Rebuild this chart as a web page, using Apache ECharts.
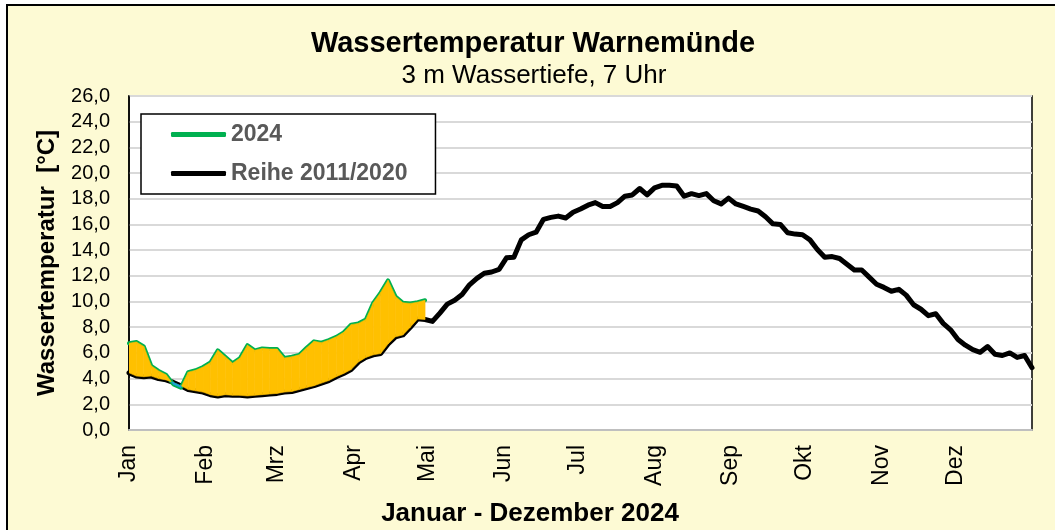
<!DOCTYPE html>
<html lang="de">
<head>
    <meta charset="UTF-8"/>
    <title>Wassertemperatur Warnemünde</title>
    <script src="https://cdn.jsdelivr.net/npm/echarts@6/dist/echarts.min.js"></script>
    <style>
        html, body {
            margin: 0;
            padding: 0;
            background: #fff;
            overflow: hidden;
        }

        #frame {
            position: absolute;
            left: 6px;
            top: 4px;
            width: 1100px;
            height: 600px;
            border: 2px solid #000;
            background: #FDFAD4;
        }

        #chart {
            position: absolute;
            left: 0;
            top: 0;
            width: 1055px;
            height: 530px;
        }
    </style>
</head>
<body>
<div id="frame"></div>
<div id="chart"></div>

<script>
    // Tageswerte im Abstand von 3 Tagen (Tag 0 = 1. Januar)
    const dayStep = 3;

    const monthNames = ["Jan", "Feb", "Mrz", "Apr", "Mai", "Jun", "Jul", "Aug", "Sep", "Okt", "Nov", "Dez"];
    const monthStartDays = [0, 31, 60, 91, 121, 152, 182, 213, 244, 274, 305, 335];

    // Reihe 2011/2020 (Mittelwerte)
    const refTemps = [
        4.45, 4.2, 4.15, 4.2, 4.0, 3.9, 3.7, 3.45, 3.15, 3.05,
        2.95, 2.75, 2.65, 2.75, 2.7, 2.7, 2.65, 2.7, 2.75, 2.8,
        2.85, 2.95, 3.0, 3.15, 3.3, 3.45, 3.65, 3.85, 4.15, 4.4,
        4.7, 5.3, 5.65, 5.85, 5.95, 6.7, 7.25, 7.4, 8.0, 8.65,
        8.6, 8.45, 9.1, 9.8, 10.1, 10.55, 11.3, 11.8, 12.2, 12.3,
        12.5, 13.4, 13.45, 14.8, 15.2, 15.4, 16.4, 16.55, 16.65, 16.5,
        16.95, 17.2, 17.5, 17.7, 17.4, 17.4, 17.7, 18.2, 18.3, 18.8,
        18.3, 18.85, 19.05, 19.05, 19.0, 18.2, 18.4, 18.25, 18.4, 17.85,
        17.6, 18.05, 17.6, 17.4, 17.2, 17.05, 16.6, 16.05, 16.0, 15.35,
        15.25, 15.2, 14.8, 14.05, 13.45, 13.5, 13.35, 12.9, 12.45, 12.45,
        11.9, 11.35, 11.1, 10.8, 10.95, 10.5, 9.75, 9.4, 8.9, 9.05,
        8.3, 7.8, 7.05, 6.6, 6.25, 6.05, 6.5, 5.9, 5.8, 6.0,
        5.65, 5.8, 4.85
    ];

    // 2024 (bis Ende April)
    const temps2024 = [
        6.75, 6.85, 6.5, 5.0, 4.6, 4.3, 3.55, 3.3, 4.5, 4.65,
        4.9, 5.25, 6.2, 5.7, 5.2, 5.6, 6.6, 6.2, 6.35, 6.3,
        6.3, 5.6, 5.7, 5.85, 6.4, 6.9, 6.8, 7.0, 7.25, 7.6,
        8.2, 8.3, 8.6, 9.9, 10.7, 11.65, 10.4, 9.9, 9.85, 9.95,
        10.1
    ];

    const FONT = "'Liberation Sans', Arial, sans-serif";
    const WARM = "#FFC000";
    const COLD = "#1E9FD8";

    const refData = refTemps.map((v, i) => [i * dayStep, v]);
    const data2024 = temps2024.map((v, i) => [i * dayStep, v]);

    // Abschnitte zwischen zwei Tagen: [Tag0, Tag1, 2024_0, 2024_1, Reihe_0, Reihe_1]
    const bandData = [];
    for (let i = 0; i < temps2024.length - 1; i++) {
        bandData.push([i * dayStep, (i + 1) * dayStep, temps2024[i], temps2024[i + 1], refTemps[i], refTemps[i + 1]]);
    }

    function poly(api, pts, color) {
        return {
            type: "polygon",
            shape: {points: pts.map(p => api.coord(p))},
            style: {fill: color, stroke: color, lineWidth: 0.6}
        };
    }

    function renderBand(params, api) {
        const d0 = api.value(0), d1 = api.value(1);
        const g0 = api.value(2), g1 = api.value(3);
        const r0 = api.value(4), r1 = api.value(5);
        const s0 = g0 - r0, s1 = g1 - r1;
        const children = [];
        if (s0 * s1 >= 0) {
            const warm = (s0 + s1) >= 0;
            children.push(poly(api, [[d0, g0], [d1, g1], [d1, r1], [d0, r0]], warm ? WARM : COLD));
        } else {
            const t = s0 / (s0 - s1);
            const dc = d0 + t * (d1 - d0);
            const vc = r0 + t * (r1 - r0);
            children.push(poly(api, [[d0, g0], [dc, vc], [d0, r0]], s0 > 0 ? WARM : COLD));
            children.push(poly(api, [[dc, vc], [d1, g1], [d1, r1]], s1 > 0 ? WARM : COLD));
        }
        return {type: "group", children: children};
    }

    const chart = echarts.init(document.getElementById("chart"));
    chart.setOption({
        animation: false,
        graphic: [
            {
                type: "text", x: 533, y: 44,
                style: {
                    text: "Wassertemperatur Warnemünde", align: "center", verticalAlign: "middle",
                    fontFamily: FONT, fontSize: 29, fontWeight: "bold", fill: "#000"
                }
            },
            {
                type: "text", x: 534, y: 76,
                style: {
                    text: "3 m Wassertiefe, 7 Uhr", align: "center", verticalAlign: "middle",
                    fontFamily: FONT, fontSize: 26, fill: "#000"
                }
            },
            {
                type: "text", x: 530, y: 514,
                style: {
                    text: "Januar - Dezember 2024", align: "center", verticalAlign: "middle",
                    fontFamily: FONT, fontSize: 26, fontWeight: "bold", fill: "#000"
                }
            }
        ],
        legend: {
            data: ["2024", "Reihe 2011/2020"],
            orient: "vertical",
            left: 141,
            top: 114,
            padding: [9, 28, 9, 30],
            itemWidth: 55,
            itemHeight: 5,
            itemGap: 16,
            icon: "roundRect",
            backgroundColor: "#fff",
            borderColor: "#000",
            borderWidth: 1.5,
            borderRadius: 0,
            textStyle: {fontFamily: FONT, fontSize: 23, fontWeight: "bold", color: "#595959"}
        },
        grid: {
            left: 129, top: 96, right: 23, bottom: 100,
            show: true,
            backgroundColor: "#fff",
            borderColor: "#000",
            borderWidth: 1.5
        },
        xAxis: {
            type: "value",
            min: 0,
            max: 366,
            axisLine: {show: true, lineStyle: {color: "#BFBFBF", width: 2}},
            axisTick: {show: false},
            splitLine: {show: false},
            axisLabel: {
                customValues: monthStartDays,
                formatter: function (v) {
                    return monthNames[monthStartDays.indexOf(v)];
                },
                rotate: 90,
                margin: 15,
                fontFamily: FONT,
                fontSize: 23,
                color: "#000"
            }
        },
        yAxis: {
            type: "value",
            min: 0,
            max: 26,
            interval: 2,
            name: "Wassertemperatur  [°C]",
            nameLocation: "middle",
            nameGap: 70,
            nameTextStyle: {fontFamily: FONT, fontSize: 24, fontWeight: "bold", color: "#000"},
            axisLine: {show: true, lineStyle: {color: "#000", width: 1.5}},
            axisTick: {show: false},
            splitLine: {lineStyle: {color: "#D9D9D9", width: 2}},
            axisLabel: {
                formatter: function (v) {
                    return v.toFixed(1).replace(".", ",");
                },
                margin: 19,
                fontFamily: FONT,
                fontSize: 20,
                color: "#000"
            }
        },
        series: [
            {
                name: "Reihe 2011/2020",
                type: "line",
                data: refData,
                symbol: "none",
                itemStyle: {color: "#000"},
                lineStyle: {color: "#000", width: 5, cap: "round", join: "round"},
                z: 2
            },
            {
                name: "2024",
                type: "line",
                data: data2024,
                symbol: "none",
                itemStyle: {color: "#00B050"},
                lineStyle: {color: "#00B050", width: 4, cap: "round", join: "round"},
                z: 2
            },
            {
                name: "Differenz",
                type: "custom",
                data: bandData,
                encode: {x: [0, 1], y: [2, 3, 4, 5]},
                renderItem: renderBand,
                silent: true,
                clip: true,
                z: 3
            }
        ]
    });
</script>
</body>
</html>
